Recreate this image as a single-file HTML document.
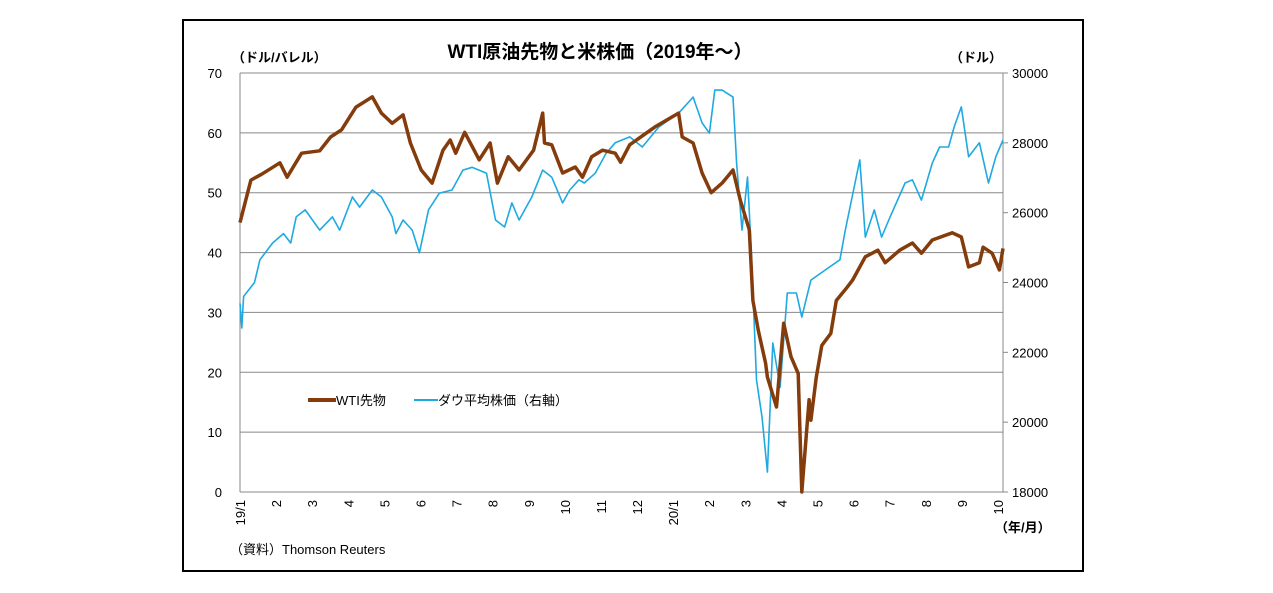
<!DOCTYPE html>
<html><head><meta charset="utf-8"><style>
body{margin:0;background:#fff;}
svg{display:block;font-family:"Liberation Sans","Noto Sans CJK JP",sans-serif;}
</style></head><body>
<svg width="1273" height="593">
<rect x="183" y="20" width="900" height="551" fill="#fff" stroke="#000" stroke-width="2"/>
<g id="grid"></g><g id="axes"></g><g id="series"></g>
<text x="600" y="58" text-anchor="middle" font-size="19" font-weight="bold">WTI原油先物と米株価（2019年～）</text>
<text x="232" y="62" font-size="13" font-weight="bold">（ドル/バレル）</text>
<text x="950" y="62" font-size="13" font-weight="bold">（ドル）</text>
<text x="995" y="532" font-size="13" font-weight="bold">（年/月）</text>
<text x="230" y="554" font-size="13">（資料）Thomson Reuters</text>
<g>
<line x1="308" y1="400" x2="336" y2="400" stroke="#843c0c" stroke-width="4"/>
<text x="336" y="405" font-size="13">WTI先物</text>
<line x1="414" y1="400" x2="438" y2="400" stroke="#1fa9e1" stroke-width="2"/>
<text x="438" y="405" font-size="13">ダウ平均株価（右軸）</text>
</g>
</svg>
<script>
const monthLabels=["19/1","2","3","4","5","6","7","8","9","10","11","12","20/1","2","3","4","5","6","7","8","9","10"];
const leftTicks=[0,10,20,30,40,50,60,70];
const rightTicks=[18000,20000,22000,24000,26000,28000,30000];
const wtiT=[0,0.3,0.6,1.1,1.3,1.7,2.2,2.5,2.8,3.2,3.65,3.9,4.2,4.5,4.7,5.0,5.3,5.6,5.8,5.95,6.2,6.6,6.9,7.1,7.4,7.7,8.1,8.35,8.4,8.6,8.9,9.25,9.45,9.7,10.0,10.35,10.5,10.75,11.45,12.1,12.2,12.5,12.75,13.0,13.3,13.6,13.8,14.05,14.15,14.3,14.5,14.55,14.8,15.0,15.2,15.4,15.5,15.7,15.75,15.9,16.05,16.3,16.45,16.75,16.9,17.25,17.6,17.8,18.2,18.55,18.8,19.1,19.65,19.9,20.1,20.4,20.5,20.75,20.95,21.05];
const wtiV=[45,52.1,53.1,55,52.6,56.6,57,59.3,60.5,64.3,66,63.3,61.6,63,58.3,53.8,51.6,57.1,58.8,56.6,60.1,55.5,58.3,51.6,56,53.8,57.1,63.3,58.3,58,53.3,54.3,52.6,56,57.1,56.6,55.1,58,61,63.3,59.3,58.3,53.3,50,51.6,53.8,48.8,43.8,32,27,21.5,19.2,14.2,28.2,22.6,19.8,0,15.4,12,19.2,24.5,26.5,32,34.2,35.4,39.3,40.4,38.3,40.4,41.6,39.9,42.1,43.3,42.6,37.6,38.3,40.9,39.9,37.1,40.7];
const dowT=[0,0.05,0.1,0.4,0.55,0.9,1.2,1.4,1.55,1.8,2.2,2.55,2.75,3.1,3.3,3.65,3.9,4.2,4.3,4.5,4.75,4.95,5.2,5.5,5.85,6.15,6.4,6.8,7.05,7.3,7.5,7.7,8.05,8.35,8.6,8.9,9.1,9.35,9.5,9.8,10.1,10.35,10.75,11.1,11.55,12.1,12.5,12.75,12.95,13.1,13.3,13.6,13.7,13.85,14.0,14.1,14.25,14.4,14.55,14.7,14.9,15.1,15.35,15.5,15.75,16.15,16.55,16.7,17.1,17.25,17.5,17.7,17.9,18.35,18.55,18.8,19.1,19.3,19.55,19.7,19.9,20.1,20.4,20.65,20.85,21.05];
const dowV=[23400,22700,23600,24000,24650,25130,25400,25130,25880,26080,25500,25880,25500,26450,26160,26650,26450,25880,25400,25790,25500,24850,26080,26560,26650,27220,27300,27130,25790,25590,26280,25790,26450,27220,27020,26280,26650,26940,26850,27130,27700,28000,28170,27880,28450,28850,29310,28570,28280,29510,29510,29310,27420,25500,27020,25020,21210,20150,18570,22270,21000,23700,23700,23010,24070,24360,24650,25500,27510,25300,26080,25300,25790,26850,26940,26360,27420,27880,27880,28450,29030,27600,28000,26850,27600,28080];
const X0=240,X1=1003,Y0=492,Y1=73,NS="http://www.w3.org/2000/svg";
const xs=m=>X0+m*(X1-X0)/21.05;
const yl=v=>Y0-(v/70)*(Y0-Y1);
const yr=v=>Y0-((v-18000)/12000)*(Y0-Y1);
function mk(tag,attrs,parent){const e=document.createElementNS(NS,tag);for(const k in attrs)e.setAttribute(k,attrs[k]);document.getElementById(parent).appendChild(e);return e;}
leftTicks.forEach((t,i)=>{
 const g=mk("line",{x1:X0,x2:X1,y1:yl(t),y2:yl(t),stroke:"#888","stroke-width":1},"grid");
 
 
 const l=mk("text",{x:222,y:yl(t)+5,"text-anchor":"end","font-size":13},"axes");l.textContent=t;
 
 
});
rightTicks.forEach(t=>{
 mk("line",{x1:X1,x2:X1+5,y1:yr(t),y2:yr(t),stroke:"#888"},"axes");
 const l=mk("text",{x:1012,y:yr(t)+5,"font-size":13},"axes");l.textContent=t;
 
 
});
mk("line",{x1:X0,x2:X0,y1:Y1,y2:Y0,stroke:"#888"},"axes");
mk("line",{x1:X1,x2:X1,y1:Y1,y2:Y0,stroke:"#888"},"axes");
monthLabels.forEach((t,i)=>{
 const x=X0+i*(998-X0)/21;
 const l=mk("text",{x:0,y:0,"font-size":13,"text-anchor":"end",transform:`translate(${x+5},${Y0+8}) rotate(-90)`},"axes");l.textContent=t;
 
 
});
const dp=dowT.map((t,i)=>`${i?'L':'M'}${xs(t).toFixed(1)},${yr(dowV[i]).toFixed(1)}`).join("");
const dl=mk("path",{d:dp,fill:"none",stroke:"#1fa9e1","stroke-width":1.6,"stroke-linejoin":"round"},"series");


const wp=wtiT.map((t,i)=>`${i?'L':'M'}${xs(t).toFixed(1)},${yl(wtiV[i]).toFixed(1)}`).join("");
const wl=mk("path",{d:wp,fill:"none",stroke:"#843c0c","stroke-width":3.5,"stroke-linejoin":"round"},"series");


</script>
</body></html>
